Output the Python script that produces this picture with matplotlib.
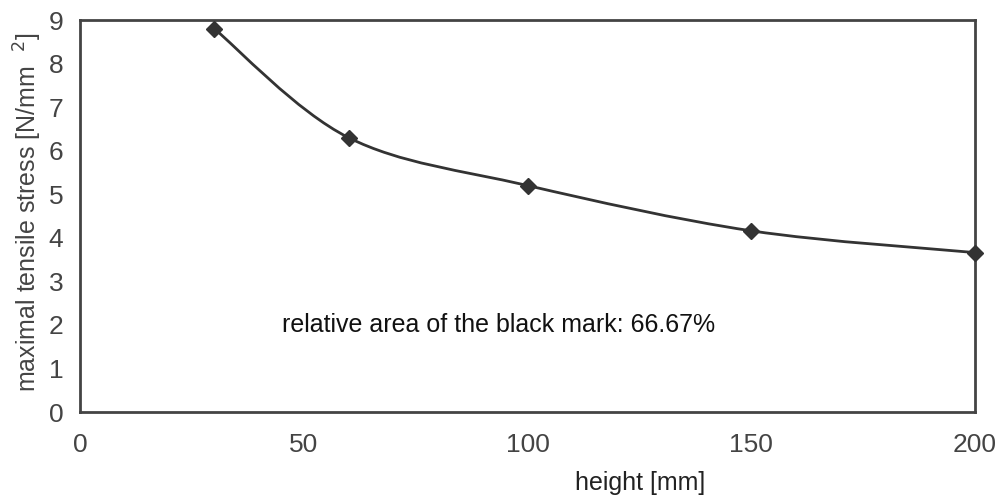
import numpy as np
import matplotlib
matplotlib.use("Agg")
import matplotlib.pyplot as plt
from matplotlib.path import Path
from matplotlib.patches import PathPatch

plt.rcParams['font.family'] = ['Liberation Sans', 'DejaVu Sans']

height_mm = [30, 60, 100, 150, 200]
stress = [8.8, 6.3, 5.2, 4.16, 3.66]
x_ticks = [0, 50, 100, 150, 200]
y_ticks = [0, 1, 2, 3, 4, 5, 6, 7, 8, 9]
annotation = "relative area of the black mark: 66.67%"

fig = plt.figure(figsize=(10.08, 4.99), dpi=100)
ax = fig.add_axes([80/1008, 87/499, 895/1008, 392/499])

# smoothed line (Catmull-Rom style bezier segments, like spreadsheet smoothing)
pts = np.column_stack([height_mm, stress]).astype(float)
n = len(pts)
verts = [tuple(pts[0])]
codes = [Path.MOVETO]
for i in range(n - 1):
    p0 = pts[i - 1] if i > 0 else pts[i]
    p1 = pts[i]
    p2 = pts[i + 1]
    p3 = pts[i + 2] if i + 2 < n else pts[i + 1]
    c1 = p1 + (p2 - p0) / 6.0
    c2 = p2 - (p3 - p1) / 6.0
    verts += [tuple(c1), tuple(c2), tuple(p2)]
    codes += [Path.CURVE4] * 3
ax.add_patch(PathPatch(Path(verts, codes), facecolor='none', edgecolor='#333333', lw=2.0, zorder=3))
ax.plot(height_mm, stress, linestyle='none', marker='D', markersize=8, color='#333333', zorder=4, clip_on=False)

ax.set_xlim(0, 200)
ax.set_ylim(0, 9)
ax.set_xticks(x_ticks)
ax.set_yticks(y_ticks)
ax.tick_params(axis='both', length=0, labelsize=19, colors='#444444')
ax.tick_params(axis='x', pad=15)
ax.tick_params(axis='y', pad=12)
for s in ax.spines.values():
    s.set_color('#444444')
    s.set_linewidth(2)

ax.set_xlabel("height [mm]", fontsize=18, color='#222222')
ax.xaxis.set_label_coords((640 - 80) / 895, (412 - 471) / 392)
ax.set_ylabel(r"maximal tensile stress [N/mm  $^{2}$]", fontsize=18, color='#444444')
ax.yaxis.set_label_coords((44 - 80) / 895, (412 - 212) / 392)

ax.text(93.5, 2.0, annotation, ha='center', va='center', fontsize=18, color='#111111')

fig.savefig("out.png", dpi=100)
